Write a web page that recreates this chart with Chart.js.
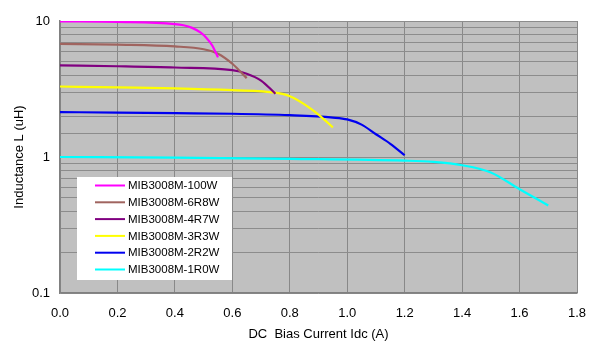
<!DOCTYPE html>
<html>
<head>
<meta charset="utf-8">
<script src="https://cdn.jsdelivr.net/npm/chart.js@4/dist/chart.umd.min.js"></script>
<style>
  html, body { margin: 0; padding: 0; background: #fff; }
  #wrap { width: 600px; height: 353px; }
</style>
</head>
<body>
<div id="wrap"><canvas id="c" width="600" height="353"></canvas></div>
<script>
// DC bias characteristics, MIB3008M series — inductance vs. current.
const seriesNames = ["MIB3008M-100W", "MIB3008M-6R8W", "MIB3008M-4R7W", "MIB3008M-3R3W", "MIB3008M-2R2W", "MIB3008M-1R0W"];
const seriesColours = ["#ff00ff", "#a0645f", "#800080", "#ffff00", "#0000f0", "#00ffff"];

const idc100W = [0, 0.2, 0.4, 0.43, 0.46, 0.49, 0.51, 0.53, 0.55];
const l100W   = [9.95, 9.85, 9.5, 9.3, 8.9, 8.2, 7.5, 6.6, 5.4];

const idc6R8W = [0, 0.2, 0.4, 0.5, 0.55, 0.6, 0.65];
const l6R8W   = [6.8, 6.7, 6.5, 6.2, 5.75, 4.85, 3.8];

const idc4R7W = [0, 0.2, 0.4, 0.6, 0.65, 0.7, 0.75];
const l4R7W   = [4.72, 4.65, 4.55, 4.35, 4.1, 3.65, 2.92];

const idc3R3W = [0, 0.2, 0.4, 0.6, 0.75, 0.8, 0.85, 0.9, 0.95];
const l3R3W   = [3.3, 3.25, 3.2, 3.1, 2.97, 2.8, 2.45, 2.05, 1.65];

const idc2R2W = [0, 0.2, 0.4, 0.6, 0.8, 0.95, 1.0, 1.05, 1.1, 1.15, 1.2];
const l2R2W   = [2.14, 2.12, 2.1, 2.08, 2.03, 1.95, 1.89, 1.73, 1.47, 1.25, 1.03];

const idc1R0W = [0, 0.4, 0.8, 1.2, 1.3, 1.4, 1.5, 1.6, 1.7];
const l1R0W   = [1.0, 0.99, 0.97, 0.94, 0.92, 0.87, 0.77, 0.58, 0.44];

const xTicks = [0, 0.2, 0.4, 0.6, 0.8, 1.0, 1.2, 1.4, 1.6, 1.8];
const yLabels = [0.1, 1, 10];

const xs = [idc100W, idc6R8W, idc4R7W, idc3R3W, idc2R2W, idc1R0W];
const ys = [l100W, l6R8W, l4R7W, l3R3W, l2R2W, l1R0W];

const FONT = "'Liberation Sans', Arial, sans-serif";

const datasets = seriesNames.map((name, i) => ({
  label: name,
  data: xs[i].map((x, j) => ({ x, y: ys[i][j] })),
  borderColor: seriesColours[i],
  backgroundColor: seriesColours[i],
  borderWidth: 2.2,
  pointRadius: 0,
  cubicInterpolationMode: "monotone",
}));

// grey plot background
const plotBg = {
  id: "plotBg",
  beforeDraw(chart) {
    const { ctx, chartArea: a } = chart;
    ctx.save();
    ctx.fillStyle = "#c0c0c0";
    ctx.fillRect(a.left, a.top, a.right - a.left, a.bottom - a.top);
    ctx.restore();
  },
};

// legend box inside the plot, lower left
const boxLegend = {
  id: "boxLegend",
  afterDatasetsDraw(chart) {
    const { ctx, chartArea: a } = chart;
    const bx = a.left + 17, by = a.top + 156, bw = 155, bh = 103;
    ctx.save();
    ctx.fillStyle = "#ffffff";
    ctx.fillRect(bx, by, bw, bh);
    ctx.font = "11.5px " + FONT;
    ctx.textBaseline = "middle";
    chart.data.datasets.forEach((ds, i) => {
      const y = by + 8.5 + i * 16.8;
      ctx.strokeStyle = ds.borderColor;
      ctx.lineWidth = 2;
      ctx.beginPath();
      ctx.moveTo(bx + 18, y);
      ctx.lineTo(bx + 48, y);
      ctx.stroke();
      ctx.fillStyle = "#000";
      ctx.fillText(ds.label, bx + 51, y + 0.5);
    });
    ctx.restore();
  },
};

new Chart(document.getElementById("c"), {
  type: "line",
  data: { datasets },
  plugins: [plotBg, boxLegend],
  options: {
    responsive: false,
    animation: false,
    devicePixelRatio: 1,
    layout: { padding: { top: 21, right: 23, left: 0, bottom: 0 } },
    plugins: { legend: { display: false }, tooltip: { enabled: false } },
    scales: {
      x: {
        type: "linear",
        min: 0,
        max: 1.8,
        afterBuildTicks: (s) => { s.ticks = xTicks.map((v) => ({ value: v })); },
        afterFit: (s) => { s.height = 60; },
        ticks: {
          callback: (v) => Number(v).toFixed(1),
          color: "#000",
          font: { family: FONT, size: 13 },
          padding: 13,
          maxRotation: 0,
        },
        grid: { color: "#888888", lineWidth: 1, drawTicks: false },
        border: { color: "#808080", width: 1.5 },
        title: {
          display: true,
          text: "DC  Bias Current Idc (A)",
          color: "#000",
          font: { family: FONT, size: 13 },
          padding: { top: 0, bottom: 11 },
        },
      },
      y: {
        type: "logarithmic",
        min: 0.1,
        max: 10,
        afterFit: (s) => { s.width = 60; },
        ticks: {
          callback: (v) => (yLabels.includes(Number(v)) ? String(v) : ""),
          autoSkip: false,
          color: "#000",
          font: { family: FONT, size: 13 },
          padding: 10,
        },
        grid: { color: "#8c8c8c", lineWidth: 1, drawTicks: false },
        border: { color: "#808080", width: 1.5 },
        title: {
          display: true,
          text: "Inductance L (uH)",
          color: "#000",
          font: { family: FONT, size: 13 },
          padding: { top: 12, bottom: 0 },
        },
      },
    },
  },
});
</script>
</body>
</html>
